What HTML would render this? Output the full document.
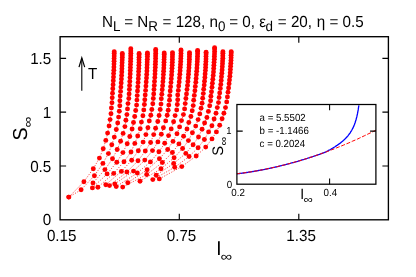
<!DOCTYPE html>
<html><head><meta charset="utf-8"><title>plot</title>
<style>html,body{margin:0;padding:0;background:#fff;width:416px;height:277px;overflow:hidden}
body{position:relative;font-family:"Liberation Sans",sans-serif}</style></head>
<body>
<svg text-rendering="geometricPrecision" width="416" height="277" viewBox="0 0 416 277" style="display:block;position:absolute;left:0;top:0;will-change:transform">
<rect width="416" height="277" fill="#fff"/>
<path d="M112.2,97.8 L112.0,102.8 L111.4,108.0 L111.0,113.7 L110.1,119.6 L109.1,125.9 L107.6,133.1 L105.8,140.4 L103.2,148.8 L99.4,158.1 L93.3,168.7 L83.9,181.7 L68.8,197.1" fill="none" stroke="#ff0000" stroke-width="0.8" stroke-dasharray="1.2,1.5" stroke-opacity="0.9"/>
<path d="M120.2,96.0 L119.9,100.7 L119.8,105.7 L119.3,111.2 L118.6,117.1 L117.7,123.0 L116.3,129.5 L114.3,137.1 L111.8,144.8 L108.4,153.6 L102.9,163.4 L94.4,175.7 L81.1,189.8 L68.8,197.1" fill="none" stroke="#ff0000" stroke-width="0.8" stroke-dasharray="1.2,1.5" stroke-opacity="0.9"/>
<path d="M128.8,98.5 L128.0,103.6 L127.5,108.9 L126.9,114.6 L125.9,120.3 L124.9,126.6 L123.1,133.4 L120.6,141.3 L117.2,149.5 L112.5,158.8 L104.9,169.6 L93.0,182.9" fill="none" stroke="#ff0000" stroke-width="0.8" stroke-dasharray="1.2,1.5" stroke-opacity="0.9"/>
<path d="M137.2,95.6 L136.9,100.1 L136.6,105.1 L135.7,110.5 L134.7,116.5 L133.5,122.5 L132.1,129.0 L129.8,136.5 L127.2,143.8 L122.9,152.6 L116.8,162.2 L107.1,173.9 L92.4,187.9" fill="none" stroke="#ff0000" stroke-width="0.8" stroke-dasharray="1.2,1.5" stroke-opacity="0.9"/>
<path d="M145.2,95.0 L144.8,99.7 L144.4,104.5 L143.8,109.9 L142.9,115.8 L141.4,122.1 L140.2,128.8 L137.7,136.0 L134.8,143.4 L131.0,152.0 L124.0,161.7 L113.7,173.4 L97.9,187.2" fill="none" stroke="#ff0000" stroke-width="0.8" stroke-dasharray="1.2,1.5" stroke-opacity="0.9"/>
<path d="M153.3,98.5 L152.8,103.8 L151.8,109.5 L150.8,115.2 L149.3,120.9 L147.9,127.8 L145.9,134.6 L143.1,142.1 L138.3,150.7 L131.7,160.3 L121.4,171.4 L105.8,184.7" fill="none" stroke="#ff0000" stroke-width="0.8" stroke-dasharray="1.2,1.5" stroke-opacity="0.9"/>
<path d="M161.3,98.8 L161.0,104.1 L160.2,109.5 L159.1,115.5 L157.8,121.5 L155.6,128.3 L153.7,134.6 L150.6,142.5 L145.3,151.0 L138.0,160.8 L126.9,172.0 L109.5,185.6" fill="none" stroke="#ff0000" stroke-width="0.8" stroke-dasharray="1.2,1.5" stroke-opacity="0.9"/>
<path d="M169.7,95.6 L169.5,100.3 L168.8,105.1 L168.2,110.2 L167.2,115.2 L165.7,120.9 L163.4,127.8 L161.3,134.3 L157.9,141.9 L152.5,150.6 L144.8,160.1 L133.5,171.1 L114.8,183.9" fill="none" stroke="#ff0000" stroke-width="0.8" stroke-dasharray="1.2,1.5" stroke-opacity="0.9"/>
<path d="M177.7,95.0 L177.7,99.7 L177.3,104.5 L176.7,109.9 L175.1,115.6 L173.6,121.8 L171.2,128.9 L168.6,135.6 L164.7,143.3 L158.9,151.8 L150.4,161.9 L137.3,173.0 L116.2,186.6" fill="none" stroke="#ff0000" stroke-width="0.8" stroke-dasharray="1.2,1.5" stroke-opacity="0.9"/>
<path d="M185.9,98.5 L185.2,103.6 L184.6,108.9 L183.4,114.6 L181.5,120.6 L179.6,126.9 L177.0,133.8 L173.0,141.4 L167.7,149.5 L159.4,158.8 L147.1,169.8 L127.8,182.7" fill="none" stroke="#ff0000" stroke-width="0.8" stroke-dasharray="1.2,1.5" stroke-opacity="0.9"/>
<path d="M194.3,95.4 L193.7,100.3 L193.2,105.6 L192.2,110.8 L190.9,116.5 L188.8,122.5 L187.0,129.0 L183.6,136.3 L178.9,143.9 L172.4,152.5 L162.4,162.5 L146.7,174.5 L122.7,187.1" fill="none" stroke="#ff0000" stroke-width="0.8" stroke-dasharray="1.2,1.5" stroke-opacity="0.9"/>
<path d="M202.7,98.2 L202.1,103.2 L201.1,108.3 L199.8,113.9 L198.1,119.6 L195.7,126.1 L192.4,132.8 L188.4,140.6 L182.6,148.5 L174.1,157.7 L161.0,168.8 L140.0,181.2" fill="none" stroke="#ff0000" stroke-width="0.8" stroke-dasharray="1.2,1.5" stroke-opacity="0.9"/>
<path d="M210.9,96.3 L210.6,100.7 L209.7,105.7 L208.4,111.4 L206.9,117.5 L204.6,123.0 L202.1,129.2 L198.5,137.0 L193.1,144.7 L185.8,153.4 L173.7,163.4 L156.2,175.2" fill="none" stroke="#ff0000" stroke-width="0.8" stroke-dasharray="1.2,1.5" stroke-opacity="0.9"/>
<path d="M219.1,97.5 L218.5,102.6 L217.3,107.6 L216.0,113.3 L214.1,119.0 L211.9,125.8 L208.6,131.9 L204.4,139.5 L198.1,147.7 L189.1,156.5 L174.7,167.3 L152.8,179.6" fill="none" stroke="#ff0000" stroke-width="0.8" stroke-dasharray="1.2,1.5" stroke-opacity="0.9"/>
<path d="M227.4,96.9 L226.7,101.9 L225.5,107.6 L223.9,113.3 L222.1,118.7 L219.7,125.3 L216.4,131.9 L212.0,138.9 L205.7,147.1 L196.2,156.0 L181.8,166.6 L159.3,178.9" fill="none" stroke="#ff0000" stroke-width="0.8" stroke-dasharray="1.2,1.5" stroke-opacity="0.9"/>
<g fill="#ff0000">
<circle cx="114.2" cy="51.7" r="2.45"/>
<circle cx="114.2" cy="53.5" r="2.45"/>
<circle cx="114.2" cy="56.0" r="2.45"/>
<circle cx="114.1" cy="58.5" r="2.45"/>
<circle cx="114.1" cy="61.2" r="2.45"/>
<circle cx="114.0" cy="64.1" r="2.45"/>
<circle cx="113.9" cy="67.1" r="2.45"/>
<circle cx="113.8" cy="70.2" r="2.45"/>
<circle cx="113.6" cy="73.6" r="2.45"/>
<circle cx="113.5" cy="77.1" r="2.45"/>
<circle cx="113.3" cy="80.8" r="2.45"/>
<circle cx="113.1" cy="84.7" r="2.45"/>
<circle cx="112.8" cy="88.8" r="2.45"/>
<circle cx="112.5" cy="93.2" r="2.45"/>
<circle cx="112.2" cy="97.8" r="2.45"/>
<circle cx="112.0" cy="102.8" r="2.45"/>
<circle cx="111.4" cy="108.0" r="2.45"/>
<circle cx="111.0" cy="113.7" r="2.45"/>
<circle cx="110.1" cy="119.6" r="2.45"/>
<circle cx="109.1" cy="125.9" r="2.45"/>
<circle cx="107.6" cy="133.1" r="2.45"/>
<circle cx="105.8" cy="140.4" r="2.45"/>
<circle cx="103.2" cy="148.8" r="2.45"/>
<circle cx="99.4" cy="158.1" r="2.45"/>
<circle cx="93.3" cy="168.7" r="2.45"/>
<circle cx="83.9" cy="181.7" r="2.45"/>
<circle cx="68.8" cy="197.1" r="2.45"/>
<circle cx="122.3" cy="53.4" r="2.45"/>
<circle cx="122.3" cy="55.1" r="2.45"/>
<circle cx="122.3" cy="57.5" r="2.45"/>
<circle cx="122.2" cy="60.1" r="2.45"/>
<circle cx="122.1" cy="62.8" r="2.45"/>
<circle cx="122.0" cy="65.7" r="2.45"/>
<circle cx="121.9" cy="68.8" r="2.45"/>
<circle cx="121.8" cy="72.0" r="2.45"/>
<circle cx="121.6" cy="75.4" r="2.45"/>
<circle cx="121.4" cy="79.1" r="2.45"/>
<circle cx="121.2" cy="83.0" r="2.45"/>
<circle cx="120.9" cy="87.1" r="2.45"/>
<circle cx="120.6" cy="91.4" r="2.45"/>
<circle cx="120.2" cy="96.0" r="2.45"/>
<circle cx="119.9" cy="100.7" r="2.45"/>
<circle cx="119.8" cy="105.7" r="2.45"/>
<circle cx="119.3" cy="111.2" r="2.45"/>
<circle cx="118.6" cy="117.1" r="2.45"/>
<circle cx="117.7" cy="123.0" r="2.45"/>
<circle cx="116.3" cy="129.5" r="2.45"/>
<circle cx="114.3" cy="137.1" r="2.45"/>
<circle cx="111.8" cy="144.8" r="2.45"/>
<circle cx="108.4" cy="153.6" r="2.45"/>
<circle cx="102.9" cy="163.4" r="2.45"/>
<circle cx="94.4" cy="175.7" r="2.45"/>
<circle cx="81.1" cy="189.8" r="2.45"/>
<circle cx="68.8" cy="197.1" r="2.45"/>
<circle cx="130.8" cy="48.8" r="2.45"/>
<circle cx="130.8" cy="50.9" r="2.45"/>
<circle cx="130.8" cy="53.3" r="2.45"/>
<circle cx="130.7" cy="55.8" r="2.45"/>
<circle cx="130.7" cy="58.5" r="2.45"/>
<circle cx="130.6" cy="61.3" r="2.45"/>
<circle cx="130.5" cy="64.3" r="2.45"/>
<circle cx="130.4" cy="67.4" r="2.45"/>
<circle cx="130.3" cy="70.6" r="2.45"/>
<circle cx="130.2" cy="74.0" r="2.45"/>
<circle cx="130.0" cy="77.6" r="2.45"/>
<circle cx="129.8" cy="81.4" r="2.45"/>
<circle cx="129.6" cy="85.4" r="2.45"/>
<circle cx="129.4" cy="89.5" r="2.45"/>
<circle cx="129.1" cy="93.9" r="2.45"/>
<circle cx="128.8" cy="98.5" r="2.45"/>
<circle cx="128.0" cy="103.6" r="2.45"/>
<circle cx="127.5" cy="108.9" r="2.45"/>
<circle cx="126.9" cy="114.6" r="2.45"/>
<circle cx="125.9" cy="120.3" r="2.45"/>
<circle cx="124.9" cy="126.6" r="2.45"/>
<circle cx="123.1" cy="133.4" r="2.45"/>
<circle cx="120.6" cy="141.3" r="2.45"/>
<circle cx="117.2" cy="149.5" r="2.45"/>
<circle cx="112.5" cy="158.8" r="2.45"/>
<circle cx="104.9" cy="169.6" r="2.45"/>
<circle cx="93.0" cy="182.9" r="2.45"/>
<circle cx="139.1" cy="53.4" r="2.45"/>
<circle cx="139.1" cy="54.8" r="2.45"/>
<circle cx="139.1" cy="57.2" r="2.45"/>
<circle cx="139.0" cy="59.8" r="2.45"/>
<circle cx="139.0" cy="62.5" r="2.45"/>
<circle cx="138.9" cy="65.3" r="2.45"/>
<circle cx="138.8" cy="68.4" r="2.45"/>
<circle cx="138.6" cy="71.6" r="2.45"/>
<circle cx="138.5" cy="75.1" r="2.45"/>
<circle cx="138.3" cy="78.7" r="2.45"/>
<circle cx="138.1" cy="82.6" r="2.45"/>
<circle cx="137.8" cy="86.7" r="2.45"/>
<circle cx="137.5" cy="91.0" r="2.45"/>
<circle cx="137.2" cy="95.6" r="2.45"/>
<circle cx="136.9" cy="100.1" r="2.45"/>
<circle cx="136.6" cy="105.1" r="2.45"/>
<circle cx="135.7" cy="110.5" r="2.45"/>
<circle cx="134.7" cy="116.5" r="2.45"/>
<circle cx="133.5" cy="122.5" r="2.45"/>
<circle cx="132.1" cy="129.0" r="2.45"/>
<circle cx="129.8" cy="136.5" r="2.45"/>
<circle cx="127.2" cy="143.8" r="2.45"/>
<circle cx="122.9" cy="152.6" r="2.45"/>
<circle cx="116.8" cy="162.2" r="2.45"/>
<circle cx="107.1" cy="173.9" r="2.45"/>
<circle cx="92.4" cy="187.9" r="2.45"/>
<circle cx="147.4" cy="52.9" r="2.45"/>
<circle cx="147.4" cy="54.2" r="2.45"/>
<circle cx="147.4" cy="56.6" r="2.45"/>
<circle cx="147.3" cy="59.2" r="2.45"/>
<circle cx="147.2" cy="61.9" r="2.45"/>
<circle cx="147.1" cy="64.8" r="2.45"/>
<circle cx="147.0" cy="67.8" r="2.45"/>
<circle cx="146.9" cy="71.0" r="2.45"/>
<circle cx="146.7" cy="74.5" r="2.45"/>
<circle cx="146.5" cy="78.1" r="2.45"/>
<circle cx="146.2" cy="82.0" r="2.45"/>
<circle cx="145.9" cy="86.1" r="2.45"/>
<circle cx="145.6" cy="90.4" r="2.45"/>
<circle cx="145.2" cy="95.0" r="2.45"/>
<circle cx="144.8" cy="99.7" r="2.45"/>
<circle cx="144.4" cy="104.5" r="2.45"/>
<circle cx="143.8" cy="109.9" r="2.45"/>
<circle cx="142.9" cy="115.8" r="2.45"/>
<circle cx="141.4" cy="122.1" r="2.45"/>
<circle cx="140.2" cy="128.8" r="2.45"/>
<circle cx="137.7" cy="136.0" r="2.45"/>
<circle cx="134.8" cy="143.4" r="2.45"/>
<circle cx="131.0" cy="152.0" r="2.45"/>
<circle cx="124.0" cy="161.7" r="2.45"/>
<circle cx="113.7" cy="173.4" r="2.45"/>
<circle cx="97.9" cy="187.2" r="2.45"/>
<circle cx="155.7" cy="49.5" r="2.45"/>
<circle cx="155.7" cy="51.1" r="2.45"/>
<circle cx="155.7" cy="53.5" r="2.45"/>
<circle cx="155.6" cy="56.0" r="2.45"/>
<circle cx="155.6" cy="58.6" r="2.45"/>
<circle cx="155.5" cy="61.4" r="2.45"/>
<circle cx="155.4" cy="64.3" r="2.45"/>
<circle cx="155.3" cy="67.4" r="2.45"/>
<circle cx="155.1" cy="70.7" r="2.45"/>
<circle cx="155.0" cy="74.1" r="2.45"/>
<circle cx="154.8" cy="77.6" r="2.45"/>
<circle cx="154.5" cy="81.4" r="2.45"/>
<circle cx="154.3" cy="85.4" r="2.45"/>
<circle cx="154.0" cy="89.5" r="2.45"/>
<circle cx="153.7" cy="93.9" r="2.45"/>
<circle cx="153.3" cy="98.5" r="2.45"/>
<circle cx="152.8" cy="103.8" r="2.45"/>
<circle cx="151.8" cy="109.5" r="2.45"/>
<circle cx="150.8" cy="115.2" r="2.45"/>
<circle cx="149.3" cy="120.9" r="2.45"/>
<circle cx="147.9" cy="127.8" r="2.45"/>
<circle cx="145.9" cy="134.6" r="2.45"/>
<circle cx="143.1" cy="142.1" r="2.45"/>
<circle cx="138.3" cy="150.7" r="2.45"/>
<circle cx="131.7" cy="160.3" r="2.45"/>
<circle cx="121.4" cy="171.4" r="2.45"/>
<circle cx="105.8" cy="184.7" r="2.45"/>
<circle cx="164.2" cy="52.9" r="2.45"/>
<circle cx="164.2" cy="54.6" r="2.45"/>
<circle cx="164.2" cy="57.0" r="2.45"/>
<circle cx="164.1" cy="59.6" r="2.45"/>
<circle cx="164.0" cy="62.2" r="2.45"/>
<circle cx="163.9" cy="65.1" r="2.45"/>
<circle cx="163.8" cy="68.1" r="2.45"/>
<circle cx="163.6" cy="71.2" r="2.45"/>
<circle cx="163.4" cy="74.6" r="2.45"/>
<circle cx="163.2" cy="78.1" r="2.45"/>
<circle cx="162.9" cy="81.8" r="2.45"/>
<circle cx="162.6" cy="85.7" r="2.45"/>
<circle cx="162.2" cy="89.8" r="2.45"/>
<circle cx="161.8" cy="94.2" r="2.45"/>
<circle cx="161.3" cy="98.8" r="2.45"/>
<circle cx="161.0" cy="104.1" r="2.45"/>
<circle cx="160.2" cy="109.5" r="2.45"/>
<circle cx="159.1" cy="115.5" r="2.45"/>
<circle cx="157.8" cy="121.5" r="2.45"/>
<circle cx="155.6" cy="128.3" r="2.45"/>
<circle cx="153.7" cy="134.6" r="2.45"/>
<circle cx="150.6" cy="142.5" r="2.45"/>
<circle cx="145.3" cy="151.0" r="2.45"/>
<circle cx="138.0" cy="160.8" r="2.45"/>
<circle cx="126.9" cy="172.0" r="2.45"/>
<circle cx="109.5" cy="185.6" r="2.45"/>
<circle cx="172.5" cy="52.6" r="2.45"/>
<circle cx="172.5" cy="54.6" r="2.45"/>
<circle cx="172.4" cy="57.0" r="2.45"/>
<circle cx="172.4" cy="59.6" r="2.45"/>
<circle cx="172.3" cy="62.3" r="2.45"/>
<circle cx="172.2" cy="65.2" r="2.45"/>
<circle cx="172.0" cy="68.3" r="2.45"/>
<circle cx="171.8" cy="71.6" r="2.45"/>
<circle cx="171.6" cy="75.0" r="2.45"/>
<circle cx="171.3" cy="78.7" r="2.45"/>
<circle cx="171.0" cy="82.6" r="2.45"/>
<circle cx="170.6" cy="86.7" r="2.45"/>
<circle cx="170.2" cy="91.0" r="2.45"/>
<circle cx="169.7" cy="95.6" r="2.45"/>
<circle cx="169.5" cy="100.3" r="2.45"/>
<circle cx="168.8" cy="105.1" r="2.45"/>
<circle cx="168.2" cy="110.2" r="2.45"/>
<circle cx="167.2" cy="115.2" r="2.45"/>
<circle cx="165.7" cy="120.9" r="2.45"/>
<circle cx="163.4" cy="127.8" r="2.45"/>
<circle cx="161.3" cy="134.3" r="2.45"/>
<circle cx="157.9" cy="141.9" r="2.45"/>
<circle cx="152.5" cy="150.6" r="2.45"/>
<circle cx="144.8" cy="160.1" r="2.45"/>
<circle cx="133.5" cy="171.1" r="2.45"/>
<circle cx="114.8" cy="183.9" r="2.45"/>
<circle cx="181.0" cy="50.0" r="2.45"/>
<circle cx="181.0" cy="51.0" r="2.45"/>
<circle cx="181.0" cy="53.4" r="2.45"/>
<circle cx="180.9" cy="55.9" r="2.45"/>
<circle cx="180.8" cy="58.6" r="2.45"/>
<circle cx="180.7" cy="61.4" r="2.45"/>
<circle cx="180.5" cy="64.4" r="2.45"/>
<circle cx="180.3" cy="67.5" r="2.45"/>
<circle cx="180.1" cy="70.8" r="2.45"/>
<circle cx="179.8" cy="74.3" r="2.45"/>
<circle cx="179.5" cy="78.0" r="2.45"/>
<circle cx="179.2" cy="81.9" r="2.45"/>
<circle cx="178.7" cy="86.0" r="2.45"/>
<circle cx="178.3" cy="90.4" r="2.45"/>
<circle cx="177.7" cy="95.0" r="2.45"/>
<circle cx="177.7" cy="99.7" r="2.45"/>
<circle cx="177.3" cy="104.5" r="2.45"/>
<circle cx="176.7" cy="109.9" r="2.45"/>
<circle cx="175.1" cy="115.6" r="2.45"/>
<circle cx="173.6" cy="121.8" r="2.45"/>
<circle cx="171.2" cy="128.9" r="2.45"/>
<circle cx="168.6" cy="135.6" r="2.45"/>
<circle cx="164.7" cy="143.3" r="2.45"/>
<circle cx="158.9" cy="151.8" r="2.45"/>
<circle cx="150.4" cy="161.9" r="2.45"/>
<circle cx="137.3" cy="173.0" r="2.45"/>
<circle cx="116.2" cy="186.6" r="2.45"/>
<circle cx="189.5" cy="52.6" r="2.45"/>
<circle cx="189.5" cy="54.3" r="2.45"/>
<circle cx="189.4" cy="56.7" r="2.45"/>
<circle cx="189.4" cy="59.3" r="2.45"/>
<circle cx="189.3" cy="61.9" r="2.45"/>
<circle cx="189.1" cy="64.8" r="2.45"/>
<circle cx="189.0" cy="67.8" r="2.45"/>
<circle cx="188.7" cy="70.9" r="2.45"/>
<circle cx="188.5" cy="74.3" r="2.45"/>
<circle cx="188.2" cy="77.8" r="2.45"/>
<circle cx="187.9" cy="81.5" r="2.45"/>
<circle cx="187.5" cy="85.4" r="2.45"/>
<circle cx="187.0" cy="89.5" r="2.45"/>
<circle cx="186.5" cy="93.9" r="2.45"/>
<circle cx="185.9" cy="98.5" r="2.45"/>
<circle cx="185.2" cy="103.6" r="2.45"/>
<circle cx="184.6" cy="108.9" r="2.45"/>
<circle cx="183.4" cy="114.6" r="2.45"/>
<circle cx="181.5" cy="120.6" r="2.45"/>
<circle cx="179.6" cy="126.9" r="2.45"/>
<circle cx="177.0" cy="133.8" r="2.45"/>
<circle cx="173.0" cy="141.4" r="2.45"/>
<circle cx="167.7" cy="149.5" r="2.45"/>
<circle cx="159.4" cy="158.8" r="2.45"/>
<circle cx="147.1" cy="169.8" r="2.45"/>
<circle cx="127.8" cy="182.7" r="2.45"/>
<circle cx="197.6" cy="50.4" r="2.45"/>
<circle cx="197.6" cy="51.4" r="2.45"/>
<circle cx="197.6" cy="53.8" r="2.45"/>
<circle cx="197.5" cy="56.3" r="2.45"/>
<circle cx="197.4" cy="59.0" r="2.45"/>
<circle cx="197.3" cy="61.8" r="2.45"/>
<circle cx="197.1" cy="64.8" r="2.45"/>
<circle cx="196.9" cy="67.9" r="2.45"/>
<circle cx="196.7" cy="71.2" r="2.45"/>
<circle cx="196.4" cy="74.7" r="2.45"/>
<circle cx="196.1" cy="78.4" r="2.45"/>
<circle cx="195.8" cy="82.3" r="2.45"/>
<circle cx="195.3" cy="86.4" r="2.45"/>
<circle cx="194.9" cy="90.8" r="2.45"/>
<circle cx="194.3" cy="95.4" r="2.45"/>
<circle cx="193.7" cy="100.3" r="2.45"/>
<circle cx="193.2" cy="105.6" r="2.45"/>
<circle cx="192.2" cy="110.8" r="2.45"/>
<circle cx="190.9" cy="116.5" r="2.45"/>
<circle cx="188.8" cy="122.5" r="2.45"/>
<circle cx="187.0" cy="129.0" r="2.45"/>
<circle cx="183.6" cy="136.3" r="2.45"/>
<circle cx="178.9" cy="143.9" r="2.45"/>
<circle cx="172.4" cy="152.5" r="2.45"/>
<circle cx="162.4" cy="162.5" r="2.45"/>
<circle cx="146.7" cy="174.5" r="2.45"/>
<circle cx="122.7" cy="187.1" r="2.45"/>
<circle cx="206.1" cy="52.2" r="2.45"/>
<circle cx="206.1" cy="54.0" r="2.45"/>
<circle cx="206.0" cy="56.4" r="2.45"/>
<circle cx="206.0" cy="58.9" r="2.45"/>
<circle cx="205.9" cy="61.6" r="2.45"/>
<circle cx="205.7" cy="64.5" r="2.45"/>
<circle cx="205.6" cy="67.5" r="2.45"/>
<circle cx="205.4" cy="70.6" r="2.45"/>
<circle cx="205.1" cy="74.0" r="2.45"/>
<circle cx="204.9" cy="77.5" r="2.45"/>
<circle cx="204.5" cy="81.2" r="2.45"/>
<circle cx="204.2" cy="85.1" r="2.45"/>
<circle cx="203.7" cy="89.2" r="2.45"/>
<circle cx="203.3" cy="93.6" r="2.45"/>
<circle cx="202.7" cy="98.2" r="2.45"/>
<circle cx="202.1" cy="103.2" r="2.45"/>
<circle cx="201.1" cy="108.3" r="2.45"/>
<circle cx="199.8" cy="113.9" r="2.45"/>
<circle cx="198.1" cy="119.6" r="2.45"/>
<circle cx="195.7" cy="126.1" r="2.45"/>
<circle cx="192.4" cy="132.8" r="2.45"/>
<circle cx="188.4" cy="140.6" r="2.45"/>
<circle cx="182.6" cy="148.5" r="2.45"/>
<circle cx="174.1" cy="157.7" r="2.45"/>
<circle cx="161.0" cy="168.8" r="2.45"/>
<circle cx="140.0" cy="181.2" r="2.45"/>
<circle cx="214.6" cy="47.8" r="2.45"/>
<circle cx="214.6" cy="49.0" r="2.45"/>
<circle cx="214.6" cy="51.4" r="2.45"/>
<circle cx="214.5" cy="53.9" r="2.45"/>
<circle cx="214.4" cy="56.5" r="2.45"/>
<circle cx="214.3" cy="59.3" r="2.45"/>
<circle cx="214.1" cy="62.2" r="2.45"/>
<circle cx="213.9" cy="65.3" r="2.45"/>
<circle cx="213.7" cy="68.5" r="2.45"/>
<circle cx="213.5" cy="71.9" r="2.45"/>
<circle cx="213.2" cy="75.5" r="2.45"/>
<circle cx="212.8" cy="79.2" r="2.45"/>
<circle cx="212.4" cy="83.2" r="2.45"/>
<circle cx="212.0" cy="87.3" r="2.45"/>
<circle cx="211.5" cy="91.7" r="2.45"/>
<circle cx="210.9" cy="96.3" r="2.45"/>
<circle cx="210.6" cy="100.7" r="2.45"/>
<circle cx="209.7" cy="105.7" r="2.45"/>
<circle cx="208.4" cy="111.4" r="2.45"/>
<circle cx="206.9" cy="117.5" r="2.45"/>
<circle cx="204.6" cy="123.0" r="2.45"/>
<circle cx="202.1" cy="129.2" r="2.45"/>
<circle cx="198.5" cy="137.0" r="2.45"/>
<circle cx="193.1" cy="144.7" r="2.45"/>
<circle cx="185.8" cy="153.4" r="2.45"/>
<circle cx="173.7" cy="163.4" r="2.45"/>
<circle cx="156.2" cy="175.2" r="2.45"/>
<circle cx="222.9" cy="51.7" r="2.45"/>
<circle cx="222.9" cy="53.3" r="2.45"/>
<circle cx="222.8" cy="55.7" r="2.45"/>
<circle cx="222.8" cy="58.3" r="2.45"/>
<circle cx="222.6" cy="61.0" r="2.45"/>
<circle cx="222.5" cy="63.8" r="2.45"/>
<circle cx="222.3" cy="66.8" r="2.45"/>
<circle cx="222.1" cy="69.9" r="2.45"/>
<circle cx="221.8" cy="73.3" r="2.45"/>
<circle cx="221.5" cy="76.8" r="2.45"/>
<circle cx="221.2" cy="80.5" r="2.45"/>
<circle cx="220.8" cy="84.4" r="2.45"/>
<circle cx="220.3" cy="88.5" r="2.45"/>
<circle cx="219.7" cy="92.9" r="2.45"/>
<circle cx="219.1" cy="97.5" r="2.45"/>
<circle cx="218.5" cy="102.6" r="2.45"/>
<circle cx="217.3" cy="107.6" r="2.45"/>
<circle cx="216.0" cy="113.3" r="2.45"/>
<circle cx="214.1" cy="119.0" r="2.45"/>
<circle cx="211.9" cy="125.8" r="2.45"/>
<circle cx="208.6" cy="131.9" r="2.45"/>
<circle cx="204.4" cy="139.5" r="2.45"/>
<circle cx="198.1" cy="147.7" r="2.45"/>
<circle cx="189.1" cy="156.5" r="2.45"/>
<circle cx="174.7" cy="167.3" r="2.45"/>
<circle cx="152.8" cy="179.6" r="2.45"/>
<circle cx="231.2" cy="51.7" r="2.45"/>
<circle cx="231.2" cy="52.9" r="2.45"/>
<circle cx="231.1" cy="55.3" r="2.45"/>
<circle cx="231.1" cy="57.8" r="2.45"/>
<circle cx="231.0" cy="60.5" r="2.45"/>
<circle cx="230.8" cy="63.3" r="2.45"/>
<circle cx="230.6" cy="66.3" r="2.45"/>
<circle cx="230.4" cy="69.4" r="2.45"/>
<circle cx="230.2" cy="72.7" r="2.45"/>
<circle cx="229.9" cy="76.2" r="2.45"/>
<circle cx="229.5" cy="79.9" r="2.45"/>
<circle cx="229.1" cy="83.8" r="2.45"/>
<circle cx="228.6" cy="87.9" r="2.45"/>
<circle cx="228.0" cy="92.3" r="2.45"/>
<circle cx="227.4" cy="96.9" r="2.45"/>
<circle cx="226.7" cy="101.9" r="2.45"/>
<circle cx="225.5" cy="107.6" r="2.45"/>
<circle cx="223.9" cy="113.3" r="2.45"/>
<circle cx="222.1" cy="118.7" r="2.45"/>
<circle cx="219.7" cy="125.3" r="2.45"/>
<circle cx="216.4" cy="131.9" r="2.45"/>
<circle cx="212.0" cy="138.9" r="2.45"/>
<circle cx="205.7" cy="147.1" r="2.45"/>
<circle cx="196.2" cy="156.0" r="2.45"/>
<circle cx="181.8" cy="166.6" r="2.45"/>
<circle cx="159.3" cy="178.9" r="2.45"/>
</g>
<g stroke="#000" stroke-width="1.35" fill="none">
<rect x="60.1" y="36.7" width="328.3" height="183.1"/>
</g>
<g stroke="#000" stroke-width="1.15" fill="none">
<path d="M179.3,219.8 v-6 M179.3,36.7 v6"/>
<path d="M298.8,219.8 v-6 M298.8,36.7 v6"/>
<path d="M60.1,58.3 h6 M388.4,58.3 h-6"/>
<path d="M60.1,112.1 h6 M388.4,112.1 h-6"/>
<path d="M60.1,166.0 h6 M388.4,166.0 h-6"/>
</g>
<path d="M81.8,90.7 V58.5" stroke="#000" stroke-width="1.1" fill="none"/>
<path d="M79.0,67.1 L81.8,57.8 L84.7,67.1" stroke="#000" stroke-width="1.2" fill="none" stroke-linejoin="miter"/>
<rect x="236.9" y="104.5" width="139.0" height="79.7" fill="#fff" stroke="none"/>
<path d="M236.9,173.8 L237.2,173.8 L237.6,173.7 L237.9,173.7 L238.3,173.7 L238.6,173.6 L239.0,173.6 L239.3,173.5 L239.7,173.5 L240.0,173.4 L240.4,173.4 L240.7,173.3 L241.1,173.3 L241.4,173.3 L241.8,173.2 L242.1,173.2 L242.5,173.1 L242.8,173.1 L243.2,173.0 L243.5,173.0 L243.9,172.9 L244.2,172.9 L244.5,172.8 L244.9,172.8 L245.2,172.7 L245.6,172.7 L245.9,172.6 L246.3,172.6 L246.6,172.5 L247.0,172.5 L247.3,172.4 L247.7,172.3 L248.0,172.3 L248.4,172.2 L248.7,172.2 L249.1,172.1 L249.4,172.1 L249.8,172.0 L250.1,172.0 L250.5,171.9 L250.8,171.9 L251.1,171.8 L251.5,171.7 L251.8,171.7 L252.2,171.6 L252.5,171.6 L252.9,171.5 L253.2,171.5 L253.6,171.4 L253.9,171.3 L254.3,171.3 L254.6,171.2 L255.0,171.2 L255.3,171.1 L255.7,171.0 L256.0,171.0 L256.4,170.9 L256.7,170.9 L257.1,170.8 L257.4,170.7 L257.8,170.7 L258.1,170.6 L258.4,170.5 L258.8,170.5 L259.1,170.4 L259.5,170.4 L259.8,170.3 L260.2,170.2 L260.5,170.2 L260.9,170.1 L261.2,170.0 L261.6,170.0 L261.9,169.9 L262.3,169.8 L262.6,169.8 L263.0,169.7 L263.3,169.6 L263.7,169.6 L264.0,169.5 L264.4,169.4 L264.7,169.4 L265.0,169.3 L265.4,169.2 L265.7,169.1 L266.1,169.1 L266.4,169.0 L266.8,168.9 L267.1,168.9 L267.5,168.8 L267.8,168.7 L268.2,168.6 L268.5,168.6 L268.9,168.5 L269.2,168.4 L269.6,168.3 L269.9,168.3 L270.3,168.2 L270.6,168.1 L271.0,168.0 L271.3,168.0 L271.6,167.9 L272.0,167.8 L272.3,167.7 L272.7,167.7 L273.0,167.6 L273.4,167.5 L273.7,167.4 L274.1,167.4 L274.4,167.3 L274.8,167.2 L275.1,167.1 L275.5,167.0 L275.8,167.0 L276.2,166.9 L276.5,166.8 L276.9,166.7 L277.2,166.6 L277.6,166.6 L277.9,166.5 L278.3,166.4 L278.6,166.3 L278.9,166.2 L279.3,166.1 L279.6,166.1 L280.0,166.0 L280.3,165.9 L280.7,165.8 L281.0,165.7 L281.4,165.6 L281.7,165.6 L282.1,165.5 L282.4,165.4 L282.8,165.3 L283.1,165.2 L283.5,165.1 L283.8,165.0 L284.2,164.9 L284.5,164.9 L284.9,164.8 L285.2,164.7 L285.6,164.6 L285.9,164.5 L286.2,164.4 L286.6,164.3 L286.9,164.2 L287.3,164.1 L287.6,164.1 L288.0,164.0 L288.3,163.9 L288.7,163.8 L289.0,163.7 L289.4,163.6 L289.7,163.5 L290.1,163.4 L290.4,163.3 L290.8,163.2 L291.1,163.1 L291.5,163.0 L291.8,162.9 L292.2,162.8 L292.5,162.7 L292.8,162.6 L293.2,162.6 L293.5,162.5 L293.9,162.4 L294.2,162.3 L294.6,162.2 L294.9,162.1 L295.3,162.0 L295.6,161.9 L296.0,161.8 L296.3,161.7 L296.7,161.6 L297.0,161.5 L297.4,161.4 L297.7,161.3 L298.1,161.2 L298.4,161.1 L298.8,161.0 L299.1,160.9 L299.4,160.8 L299.8,160.7 L300.1,160.6 L300.5,160.5 L300.8,160.3 L301.2,160.2 L301.5,160.1 L301.9,160.0 L302.2,159.9 L302.6,159.8 L302.9,159.7 L303.3,159.6 L303.6,159.5 L304.0,159.4 L304.3,159.3 L304.7,159.2 L305.0,159.1 L305.4,159.0 L305.7,158.9 L306.1,158.8 L306.4,158.6 L306.7,158.5 L307.1,158.4 L307.4,158.3 L307.8,158.2 L308.1,158.1 L308.5,158.0 L308.8,157.9 L309.2,157.8 L309.5,157.6 L309.9,157.5 L310.2,157.4 L310.6,157.3 L310.9,157.2 L311.3,157.1 L311.6,157.0 L312.0,156.9 L312.3,156.7 L312.7,156.6 L313.0,156.5 L313.3,156.4 L313.7,156.3 L314.0,156.2 L314.4,156.0 L314.7,155.9 L315.1,155.8 L315.4,155.7 L315.8,155.6 L316.1,155.5 L316.5,155.3 L316.8,155.2 L317.2,155.1 L317.5,155.0 L317.9,154.9 L318.2,154.7 L318.6,154.6 L318.9,154.5 L319.3,154.4 L319.6,154.3 L320.0,154.1 L320.3,154.0 L320.6,153.9 L321.0,153.8 L321.3,153.6 L321.7,153.5 L322.0,153.4 L322.4,153.3 L322.7,153.1 L323.1,153.0 L323.4,152.9 L323.8,152.8 L324.1,152.6 L324.5,152.5 L324.8,152.4 L325.2,152.2 L325.5,152.1 L325.9,151.9 L326.2,151.7 L326.6,151.5 L326.9,151.3 L327.2,151.2 L327.6,151.0 L327.9,150.8 L328.3,150.6 L328.6,150.4 L329.0,150.2 L329.3,150.0 L329.7,149.9 L330.0,149.7 L330.4,149.5 L330.7,149.3 L331.1,149.1 L331.4,148.9 L331.8,148.7 L332.1,148.5 L332.5,148.3 L332.8,148.1 L333.2,147.9 L333.5,147.6 L333.9,147.4 L334.2,147.2 L334.5,147.0 L334.9,146.8 L335.2,146.6 L335.6,146.3 L335.9,146.1 L336.3,145.9 L336.6,145.6 L337.0,145.4 L337.3,145.2 L337.7,144.9 L338.0,144.7 L338.4,144.4 L338.7,144.2 L339.1,143.9 L339.4,143.7 L339.8,143.4 L340.1,143.2 L340.5,142.9 L340.8,142.6 L341.1,142.4 L341.5,142.1 L341.8,141.8 L342.2,141.5 L342.5,141.2 L342.9,140.9 L343.2,140.6 L343.6,140.3 L343.9,140.0 L344.3,139.6 L344.6,139.3 L345.0,139.0 L345.3,138.6 L345.7,138.3 L346.0,137.9 L346.4,137.6 L346.7,137.2 L347.1,136.8 L347.4,136.4 L347.8,136.0 L348.1,135.6 L348.4,135.1 L348.8,134.7 L349.1,134.2 L349.5,133.8 L349.8,133.3 L350.2,132.8 L350.5,132.2 L350.9,131.7 L351.2,131.1 L351.6,130.5 L351.9,129.9 L352.3,129.3 L352.6,128.6 L353.0,127.9 L353.3,127.2 L353.7,126.4 L354.0,125.6 L354.4,124.7 L354.7,123.8 L355.1,122.8 L355.4,121.8 L355.7,120.7 L356.1,119.5 L356.4,118.2 L356.8,116.9 L357.1,115.4 L357.5,113.7 L357.8,111.9 L358.2,109.9 L358.5,107.7 L358.9,105.3" fill="none" stroke="#0000ff" stroke-width="1.3"/>
<path d="M236.9,173.8 L239.2,173.5 L241.5,173.2 L243.8,172.9 L246.2,172.6 L248.5,172.2 L250.8,171.9 L253.1,171.5 L255.4,171.1 L257.8,170.7 L260.1,170.2 L262.4,169.8 L264.7,169.4 L267.0,168.9 L269.3,168.4 L271.6,167.9 L274.0,167.4 L276.3,166.9 L278.6,166.3 L280.9,165.8 L283.2,165.2 L285.6,164.6 L287.9,164.0 L290.2,163.4 L292.5,162.7 L294.8,162.1 L297.1,161.4 L299.4,160.8 L301.8,160.1 L304.1,159.4 L306.4,158.6 L308.7,157.9 L311.0,157.2 L313.3,156.4 L315.7,155.6 L318.0,154.8 L320.3,154.0 L322.6,153.2 L324.9,152.4 L327.2,151.5 L329.6,150.6 L331.9,149.7 L334.2,148.9 L336.5,147.9 L338.8,147.0 L341.1,146.1 L343.5,145.1 L345.8,144.1 L348.1,143.2 L350.4,142.2 L352.7,141.1 L355.1,140.1 L357.4,139.1 L359.7,138.0 L362.0,136.9 L364.3,135.8 L366.6,134.7 L368.9,133.6 L371.3,132.5 L373.6,131.3 L375.9,130.2" fill="none" stroke="#ff0000" stroke-width="1" stroke-dasharray="4,1.7"/>
<g stroke="#000" stroke-width="1.25" fill="none">
<rect x="236.9" y="104.5" width="139.0" height="79.7"/>
<path stroke-width="1.05" d="M329.6,184.2 v-5.8 M329.6,104.5 v5.8"/>
<path stroke-width="1.05" d="M236.9,131.1 h5.8 M375.9,131.1 h-5.8"/>
</g>
<text transform="translate(102.1,27) scale(1,1.055)" font-size="15.2" font-family="Liberation Sans, sans-serif">N<tspan dy="4.1" font-size="13.4">L</tspan><tspan dy="-4.1" dx="-0.5"> = N</tspan><tspan dy="4.1" font-size="13.4">R</tspan><tspan dy="-4.1" dx="0.4"> = 128, n</tspan><tspan dy="4.1" font-size="13.4">0</tspan><tspan dy="-4.1" dx="-0.4"> = 0, </tspan><tspan dx="0.1">ε</tspan><tspan dy="4.1" dx="-0.5" font-size="13.4">d</tspan><tspan dy="-4.1" dx="0.6"> = 20, </tspan><tspan dx="0.5">η = 0.5</tspan></text>
<text transform="translate(51.3,63.8) scale(1,1.055)" font-size="15.2" text-anchor="end" font-family="Liberation Sans, sans-serif" >1.5</text>
<text transform="translate(51.3,117.6) scale(1,1.055)" font-size="15.2" text-anchor="end" font-family="Liberation Sans, sans-serif" >1</text>
<text transform="translate(51.3,171.5) scale(1,1.055)" font-size="15.2" text-anchor="end" font-family="Liberation Sans, sans-serif" >0.5</text>
<text transform="translate(51.3,225.3) scale(1,1.055)" font-size="15.2" text-anchor="end" font-family="Liberation Sans, sans-serif" >0</text>
<text transform="translate(61.7,240.6) scale(1,1.055)" font-size="15.2" text-anchor="middle" font-family="Liberation Sans, sans-serif" >0.15</text>
<text transform="translate(181.5,240.6) scale(1,1.055)" font-size="15.2" text-anchor="middle" font-family="Liberation Sans, sans-serif" >0.75</text>
<text transform="translate(301.1,240.6) scale(1,1.055)" font-size="15.2" text-anchor="middle" font-family="Liberation Sans, sans-serif" >1.35</text>
<text transform="translate(216.2,255.1) scale(1,1.055)" font-size="19" font-family="Liberation Sans, sans-serif">I</text>
<text transform="translate(220.6,260.7) scale(1,0.8)" font-size="16.4" font-family="Liberation Sans, sans-serif">∞</text>
<text transform="translate(27.3,140.5) rotate(-90) scale(1,1.03)" font-size="19.6" font-family="Liberation Sans, sans-serif">S</text>
<text transform="translate(32.4,127.4) rotate(-90) scale(1,0.82)" font-size="15.4" font-family="Liberation Sans, sans-serif">∞</text>
<text transform="translate(88.0,79.3) scale(1,1.055)" font-size="15.2" text-anchor="start" font-family="Liberation Sans, sans-serif" >T</text>
<text transform="translate(259.6,120.7) scale(1,1.055)" font-size="9.7" text-anchor="start" font-family="Liberation Sans, sans-serif" >a = 5.5502</text>
<text transform="translate(259.6,134.0) scale(1,1.055)" font-size="9.7" text-anchor="start" font-family="Liberation Sans, sans-serif" >b = -1.1466</text>
<text transform="translate(259.6,147.3) scale(1,1.055)" font-size="9.7" text-anchor="start" font-family="Liberation Sans, sans-serif" >c = 0.2024</text>
<text transform="translate(231.6,134.3) scale(1,1.055)" font-size="9.5" text-anchor="end" font-family="Liberation Sans, sans-serif" >1</text>
<text transform="translate(232.1,188.4) scale(1,1.055)" font-size="9.8" text-anchor="end" font-family="Liberation Sans, sans-serif" >0</text>
<text transform="translate(238.1,196.0) scale(1,1.055)" font-size="9.8" text-anchor="middle" font-family="Liberation Sans, sans-serif" >0.2</text>
<text transform="translate(330.4,196.0) scale(1,1.055)" font-size="9.8" text-anchor="middle" font-family="Liberation Sans, sans-serif" >0.4</text>
<text transform="translate(300.15,198.5) scale(1,1.055)" font-size="14" font-family="Liberation Sans, sans-serif">I</text>
<text transform="translate(303.5,202.6) scale(1,0.8)" font-size="13" font-family="Liberation Sans, sans-serif">∞</text>
<text transform="translate(222.8,155.7) rotate(-90) scale(1,1.03)" font-size="14.8" font-family="Liberation Sans, sans-serif">S</text>
<text transform="translate(227.0,145.6) rotate(-90) scale(1,0.85)" font-size="12.2" font-family="Liberation Sans, sans-serif">∞</text>
</svg>
</body></html>
